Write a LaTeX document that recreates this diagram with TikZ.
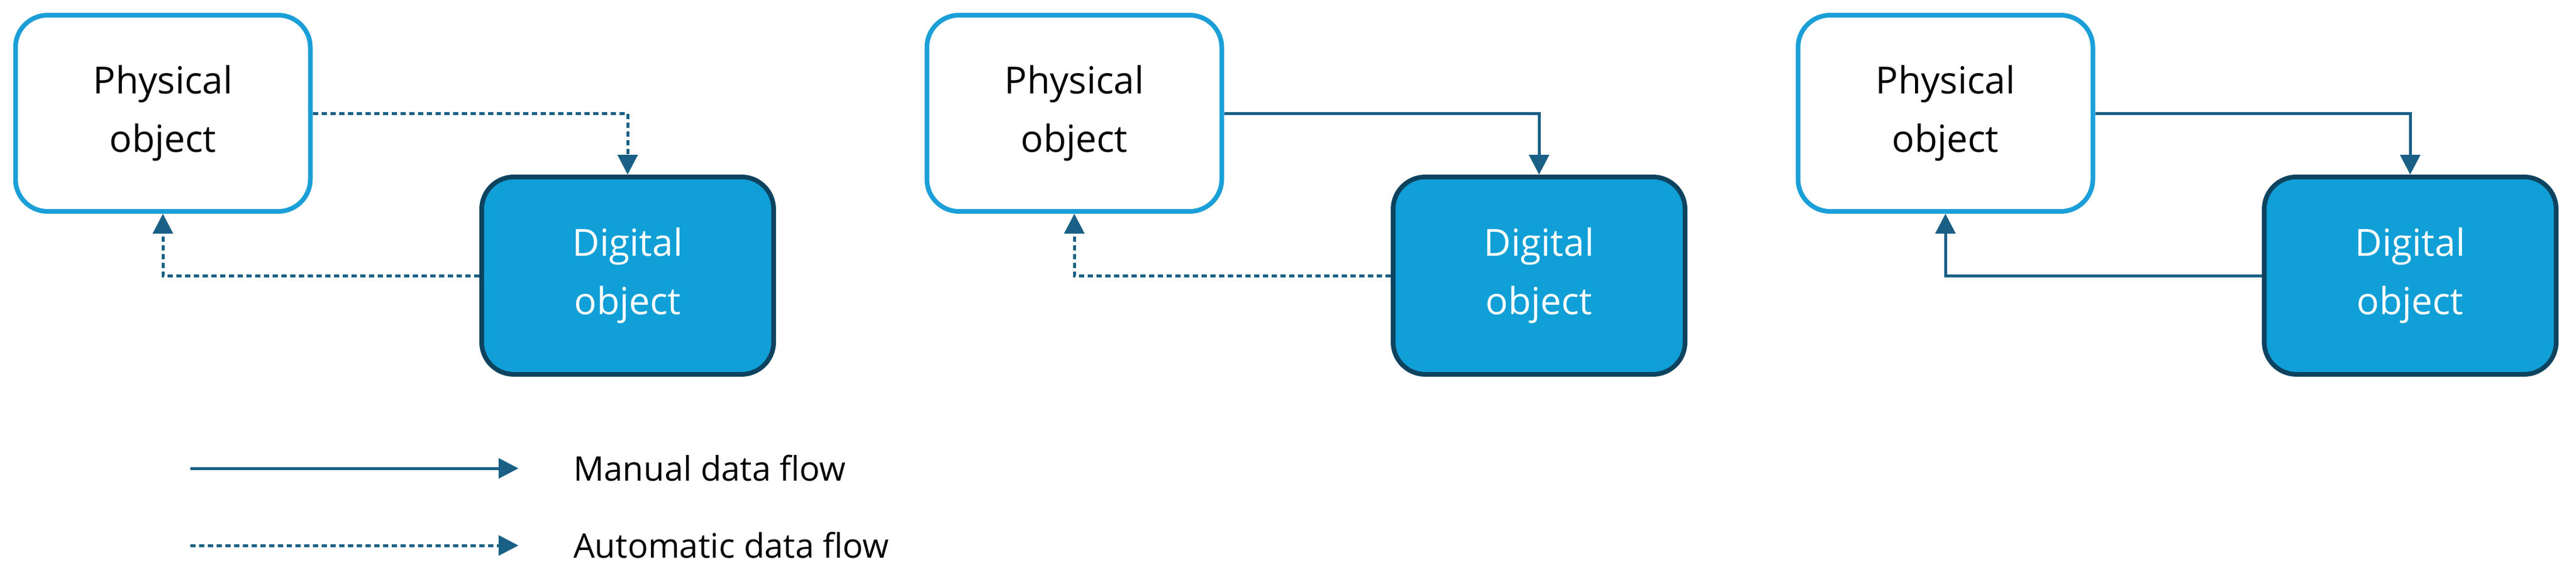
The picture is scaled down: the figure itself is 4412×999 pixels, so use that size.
\documentclass[tikz,border=0pt]{standalone}
\usepackage{fontspec}
\setmainfont{Open Sans}
\usetikzlibrary{arrows.meta}
\definecolor{lb}{HTML}{1B9FD8}
\definecolor{df}{HTML}{109FD6}
\definecolor{db}{HTML}{0E4360}
\definecolor{ar}{HTML}{1A6086}
\tikzset{
 phys/.style={draw=lb,line width=8pt,fill=white,rounded corners=55pt,minimum width=505pt,minimum height=336pt,align=center,font=\fontsize{64}{100}\selectfont,inner sep=0pt},
 digi/.style={draw=db,line width=8pt,fill=df,rounded corners=55pt,minimum width=500pt,minimum height=338pt,align=center,text=white,font=\fontsize{64}{100}\selectfont,inner sep=0pt},
 flow/.style={draw=ar,line width=5pt,-{Triangle[length=34pt,width=34pt]}},
 auto/.style={flow,dash pattern=on 9pt off 6pt},
 lbl/.style={anchor=west,font=\fontsize{58}{70}\selectfont,inner sep=0pt}
}
\begin{document}
\begin{tikzpicture}[x=1pt,y=-1pt]
\useasboundingbox (0,0) rectangle (4412,999);
\foreach \s/\i/\ta/\tb in {0/a/auto/auto,1561/b/flow/auto,3053/c/flow/flow}{
 \node[phys] (p\i) at (\s+279,194) {Physical\\object};
 \node[digi] (d\i) at (\s+1075,472) {Digital\\object};
 \draw[\ta] (p\i.east) -| (d\i.north);
 \draw[\tb] (d\i.west) -| (p\i.south);
}
\coordinate (m1) at (326,802); \coordinate (m2) at (888,802);
\coordinate (a1) at (326,934); \coordinate (a2) at (888,934);
\draw[flow] (m1) -- (m2);
\draw[auto] (a1) -- (a2);
\node[lbl] (lm) at (982,802) {Manual data flow};
\node[lbl] (la) at (982,934) {Automatic data flow};
\end{tikzpicture}
\end{document}
